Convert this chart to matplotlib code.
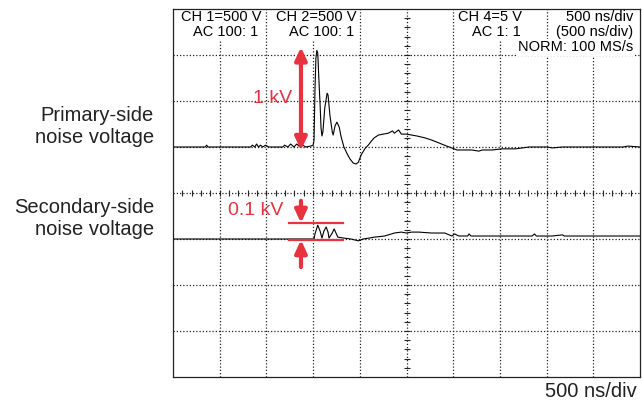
import numpy as np
import matplotlib
matplotlib.use('Agg')
import matplotlib.pyplot as plt

plt.rcParams['font.family'] = ['Liberation Sans', 'DejaVu Sans']

# 波形数据: 时间单位为格 (500 ns/div), 幅值单位为格 (相对各通道基线)
prim_t = [0.0, 0.69, 0.72, 0.75, 1.66, 1.70, 1.75, 1.79, 1.83, 1.875, 1.92, 1.98, 2.05,
          2.35, 2.39, 2.46, 2.52, 2.59, 2.65, 2.72, 2.78, 2.84, 2.95, 3.00, 3.02, 3.04,
          3.06, 3.08, 3.10, 3.12, 3.15, 3.17, 3.19, 3.21, 3.25, 3.30, 3.32, 3.36, 3.41,
          3.43, 3.47, 3.51, 3.56, 3.60, 3.66, 3.73, 3.79, 3.86, 3.92, 3.97, 4.03, 4.12,
          4.18, 4.25, 4.31, 4.40, 4.50, 4.61, 4.70, 4.74, 4.83, 4.89, 5.00, 5.11, 5.22,
          5.39, 5.54, 5.69, 5.86, 5.97, 6.08, 6.25, 6.40, 6.55, 6.62, 6.83, 7.05, 7.33,
          7.48, 7.63, 8.02, 8.12, 8.34, 8.77, 9.63, 9.74, 10.0]
prim_v = [0.0, 0.0, 0.04, 0.0, 0.0, 0.04, 0.0, 0.065, 0.0, 0.04, 0.0, 0.04, 0.0,
          0.0, 0.04, 0.0, 0.065, 0.0, 0.065, 0.0, 0.04, 0.0, 0.02, 0.04, 0.15, 1.24,
          1.93, 2.10, 2.04, 1.56, 0.91, 0.41, 0.24, 0.33, 0.85, 1.17, 1.13, 0.69, 0.33,
          0.26, 0.46, 0.54, 0.43, 0.22, 0.0, -0.15, -0.26, -0.35, -0.37, -0.33, -0.17, -0.02,
          0.04, 0.13, 0.20, 0.26, 0.28, 0.30, 0.35, 0.30, 0.37, 0.28, 0.28, 0.26, 0.24,
          0.20, 0.15, 0.09, 0.02, -0.02, -0.065, -0.065, -0.065, -0.09, -0.065, -0.065, -0.04, -0.04,
          -0.02, 0.0, 0.0, -0.02, 0.0, 0.0, 0.0, 0.02, 0.0]

sec_t = [0.0, 3.02, 3.04, 3.10, 3.15, 3.19, 3.23, 3.28, 3.32, 3.34, 3.41, 3.45, 3.49,
         3.53, 3.66, 3.81, 3.97, 4.07, 4.20, 4.31, 4.53, 4.68, 4.74, 4.89, 5.00, 5.11,
         5.26, 5.54, 5.82, 5.97, 6.03, 6.12, 6.31, 6.34, 6.38, 7.69, 7.74, 7.78, 8.12,
         8.34, 8.38, 8.73, 10.0]
sec_v = [0.0, 0.0, 0.11, 0.30, 0.17, 0.02, 0.17, 0.26, 0.15, 0.02, 0.13, 0.22, 0.13,
         0.04, 0.02, 0.0, -0.04, 0.0, 0.02, 0.04, 0.065, 0.11, 0.13, 0.15, 0.13, 0.15,
         0.15, 0.13, 0.13, 0.065, 0.11, 0.065, 0.065, 0.11, 0.065, 0.065, 0.11, 0.065, 0.065,
         0.09, 0.065, 0.065, 0.065]

# 示波器标题文字
header_left = ['CH 1=500 V', 'CH 2=500 V', 'CH 4=5 V']
header_sub = ['AC 100: 1', 'AC 100: 1', 'AC 1: 1']
header_right = ['500 ns/div', '(500 ns/div)', 'NORM: 100 MS/s']
channel_labels = ['Primary-side\nnoise voltage', 'Secondary-side\nnoise voltage']
scale_labels = ['1 kV', '0.1 kV']
time_label = '500 ns/div'

n_xdiv, n_ydiv = 10, 8
prim_offset, sec_offset = 1.0, -1.0
red = '#e8323f'

fig = plt.figure(figsize=(6.42, 4.01), dpi=100)
ax = fig.add_axes([173 / 642, 24 / 401, 467 / 642, 368 / 401])
ax.set_xlim(0, n_xdiv)
ax.set_ylim(-n_ydiv / 2, n_ydiv / 2)
ax.set_xticks([])
ax.set_yticks([])
for s in ax.spines.values():
    s.set_linewidth(0.9)
    s.set_color('#222222')
    s.set_zorder(6)

# 网格 (点线)
grid_kw = dict(color='#222222', lw=0.9, linestyle=(0, (1, 1.6)), zorder=1)
for gx in range(1, n_xdiv):
    ax.axvline(gx, **grid_kw)
for gy in range(-n_ydiv // 2 + 1, n_ydiv // 2):
    ax.axhline(gy, **grid_kw)

# 中心刻度
minor_x = np.arange(0.2, n_xdiv, 0.2)
minor_y = np.arange(-n_ydiv / 2 + 0.2, n_ydiv / 2, 0.2)
ax.plot(minor_x, np.zeros_like(minor_x), ls='none', marker='|', ms=4.5, mew=0.8,
        color='#222222', zorder=1)
ax.plot(np.full_like(minor_y, n_xdiv / 2), minor_y, ls='none', marker='_', ms=4.5,
        mew=0.8, color='#222222', zorder=1)

# 波形
ax.plot(prim_t, np.array(prim_v) + prim_offset, color='black', lw=0.8, zorder=3)
ax.plot(sec_t, np.array(sec_v) + sec_offset, color='black', lw=0.8, zorder=3)

# 标题文字
box = dict(facecolor='white', edgecolor='none', pad=1.0)
hfs = 10.5
ax.text(0.17, 3.83, header_left[0], fontsize=hfs, ha='left', va='center', bbox=box, zorder=4)
ax.text(1.82, 3.50, header_sub[0], fontsize=hfs, ha='right', va='center', bbox=box, zorder=4)
ax.text(2.21, 3.83, header_left[1], fontsize=hfs, ha='left', va='center', bbox=box, zorder=4)
ax.text(3.88, 3.50, header_sub[1], fontsize=hfs, ha='right', va='center', bbox=box, zorder=4)
ax.text(6.10, 3.83, header_left[2], fontsize=hfs, ha='left', va='center', bbox=box, zorder=4)
ax.text(7.45, 3.50, header_sub[2], fontsize=hfs, ha='right', va='center', bbox=box, zorder=4)
for i, txt in enumerate(header_right):
    ax.text(9.85, 3.83 - 0.33 * i, txt, fontsize=hfs, ha='right', va='center',
            bbox=box, zorder=4)

# 1 kV 双箭头
arr_x = 2.74
ax.annotate('', xy=(arr_x, 3.17), xytext=(arr_x, 0.93),
            arrowprops=dict(arrowstyle='<|-|>,head_length=0.75,head_width=0.35',
                            color=red, lw=3, shrinkA=0, shrinkB=0, mutation_scale=10),
            zorder=5)
ax.text(2.55, 2.05, scale_labels[0], color=red, fontsize=14, ha='right', va='center')

# 0.1 kV 标记
ax.plot([2.48, 3.64], [-0.652, -0.652], color=red, lw=1.6, zorder=5)
ax.plot([2.48, 3.64], [-1.02, -1.02], color=red, lw=1.6, zorder=5)
ax.annotate('', xy=(arr_x, -0.652), xytext=(arr_x, -0.17),
            arrowprops=dict(arrowstyle='-|>,head_length=0.75,head_width=0.35',
                            color=red, lw=3, shrinkA=0, shrinkB=0, mutation_scale=10),
            zorder=5)
ax.annotate('', xy=(arr_x, -1.02), xytext=(arr_x, -1.61),
            arrowprops=dict(arrowstyle='-|>,head_length=0.75,head_width=0.35',
                            color=red, lw=3, shrinkA=0, shrinkB=0, mutation_scale=10),
            zorder=5)
ax.text(2.36, -0.37, scale_labels[1], color=red, fontsize=14, ha='right', va='center')

# 左侧标签与底部时间刻度
fig.text(154 / 642, 1 - 127 / 401, channel_labels[0], fontsize=14.5, ha='right',
         va='center', color='#222222', linespacing=1.2)
fig.text(154 / 642, 1 - 219 / 401, channel_labels[1], fontsize=14.5, ha='right',
         va='center', color='#222222', linespacing=1.2)
fig.text(637 / 642, 4 / 401, time_label, fontsize=14.5, ha='right', va='baseline',
         color='#222222')

plt.savefig('out.png', dpi=100)
